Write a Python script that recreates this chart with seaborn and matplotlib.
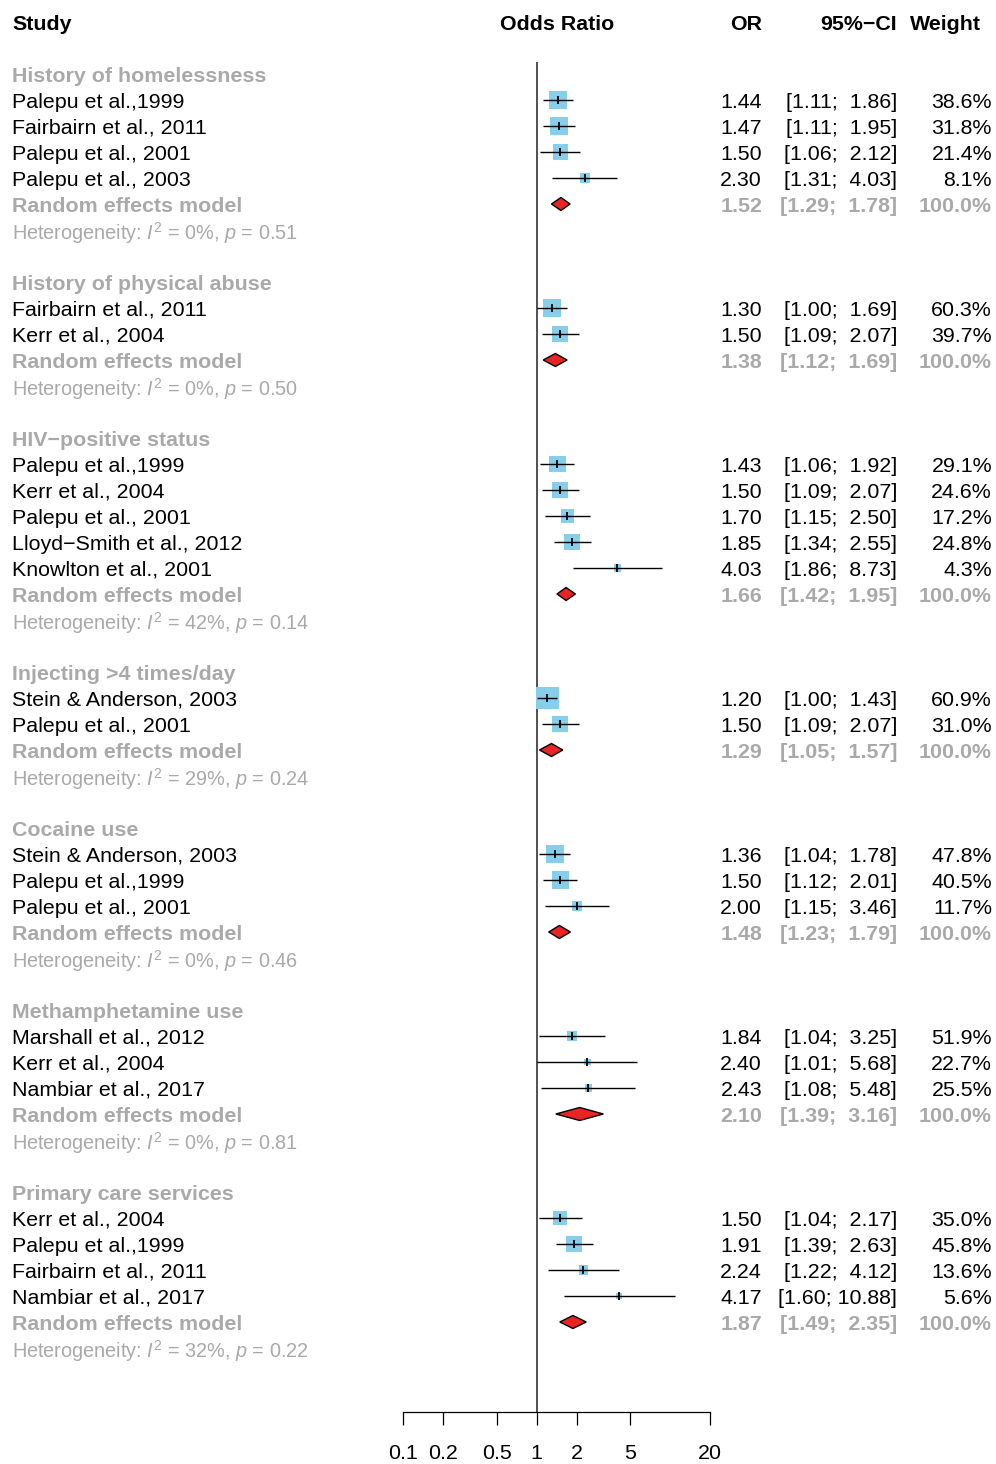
import numpy as np
import pandas as pd
import matplotlib
matplotlib.use("Agg")
import matplotlib.pyplot as plt
from matplotlib.patches import Polygon
from matplotlib.ticker import FixedLocator, FixedFormatter, NullLocator
from matplotlib.transforms import blended_transform_factory
import seaborn as sns

# ---- data -------------------------------------------------------------
group_names = [
    "History of homelessness",
    "History of physical abuse",
    "HIV\u2212positive status",
    "Injecting >4 times/day",
    "Cocaine use",
    "Methamphetamine use",
    "Primary care services",
]

study_group = [0, 0, 0, 0,
               1, 1,
               2, 2, 2, 2, 2,
               3, 3,
               4, 4, 4,
               5, 5, 5,
               6, 6, 6, 6]
study_names = [
    "Palepu et al.,1999", "Fairbairn et al., 2011", "Palepu et al., 2001", "Palepu et al., 2003",
    "Fairbairn et al., 2011", "Kerr et al., 2004",
    "Palepu et al.,1999", "Kerr et al., 2004", "Palepu et al., 2001",
    "Lloyd\u2212Smith et al., 2012", "Knowlton et al., 2001",
    "Stein & Anderson, 2003", "Palepu et al., 2001",
    "Stein & Anderson, 2003", "Palepu et al.,1999", "Palepu et al., 2001",
    "Marshall et al., 2012", "Kerr et al., 2004", "Nambiar et al., 2017",
    "Kerr et al., 2004", "Palepu et al.,1999", "Fairbairn et al., 2011", "Nambiar et al., 2017",
]
study_or = [1.44, 1.47, 1.50, 2.30,
            1.30, 1.50,
            1.43, 1.50, 1.70, 1.85, 4.03,
            1.20, 1.50,
            1.36, 1.50, 2.00,
            1.84, 2.40, 2.43,
            1.50, 1.91, 2.24, 4.17]
study_lo = [1.11, 1.11, 1.06, 1.31,
            1.00, 1.09,
            1.06, 1.09, 1.15, 1.34, 1.86,
            1.00, 1.09,
            1.04, 1.12, 1.15,
            1.04, 1.01, 1.08,
            1.04, 1.39, 1.22, 1.60]
study_hi = [1.86, 1.95, 2.12, 4.03,
            1.69, 2.07,
            1.92, 2.07, 2.50, 2.55, 8.73,
            1.43, 2.07,
            1.78, 2.01, 3.46,
            3.25, 5.68, 5.48,
            2.17, 2.63, 4.12, 10.88]
study_weight = [38.6, 31.8, 21.4, 8.1,
                60.3, 39.7,
                29.1, 24.6, 17.2, 24.8, 4.3,
                60.9, 31.0,
                47.8, 40.5, 11.7,
                51.9, 22.7, 25.5,
                35.0, 45.8, 13.6, 5.6]

pooled_or = [1.52, 1.38, 1.66, 1.29, 1.48, 2.10, 1.87]
pooled_lo = [1.29, 1.12, 1.42, 1.05, 1.23, 1.39, 1.49]
pooled_hi = [1.78, 1.69, 1.95, 1.57, 1.79, 3.16, 2.35]
het_i2 = [0, 0, 42, 29, 0, 0, 32]
het_p = ["0.51", "0.50", "0.14", "0.24", "0.46", "0.81", "0.22"]

tick_values = [0.1, 0.2, 0.5, 1, 2, 5, 20]
tick_labels = ["0.1", "0.2", "0.5", "1", "2", "5", "20"]

# ---- style ------------------------------------------------------------
sns.set_theme(style="white")
plt.rcParams["font.family"] = ["Liberation Sans", "DejaVu Sans"]
plt.rcParams["mathtext.fontset"] = "custom"
plt.rcParams["mathtext.rm"] = "Liberation Sans"
plt.rcParams["mathtext.it"] = "Liberation Sans:italic"
plt.rcParams["mathtext.bf"] = "Liberation Sans:bold"

FS = 15.4
FS_HET = 14.3
GREY = "#A9A9A9"
SQUARE = "#87CEEB"
DIAMOND = "#E82424"

W, H = 996, 1464
fig = plt.figure(figsize=(W / 100, H / 100), dpi=100)
ax = fig.add_axes([0, 0, 1, 1])
ax.set_xscale("log")

# log axis: value 1 sits at x0 px, one decade spans dec px
x0, dec = 536.7, 133.4
ax.set_xlim(10 ** ((0 - x0) / dec), 10 ** ((W - x0) / dec))
# rows are 26 px apart, header row centred 22 px from the top
row0, rowh = 22.0, 26.0
ax.set_ylim((H - row0) / rowh, -row0 / rowh)

txt = blended_transform_factory(fig.transFigure, ax.transData)


def put(xpx, row, s, ha="left", color="black", weight="normal", size=FS):
    ax.text(xpx / W, row, s, transform=txt, ha=ha, va="center_baseline",
            fontsize=size, color=color, fontweight=weight)


# ---- row layout -------------------------------------------------------
study_row = []
title_row, pooled_row, het_row = [], [], []
r = 2
for g in range(len(group_names)):
    title_row.append(r)
    r += 1
    for i, sg in enumerate(study_group):
        if sg == g:
            study_row.append((i, r))
            r += 1
    pooled_row.append(r)
    het_row.append(r + 1)
    r += 3
study_row = [row for _, row in sorted(study_row)]
last_row = het_row[-1]
axis_row = last_row + 2.46

df = pd.DataFrame({
    "name": study_names,
    "or": study_or,
    "lo": study_lo,
    "hi": study_hi,
    "weight": study_weight,
    "row": study_row,
})
# square side follows inverse-variance weight (with between-study variance)
se = (np.log(df["hi"]) - np.log(df["lo"])) / (2 * 1.96)
side_px = 3.03 / np.sqrt(se ** 2 + 0.0095)
df["area"] = (side_px * 0.72) ** 2

# ---- header -----------------------------------------------------------
put(12, 0, "Study", weight="bold")
put(557, 0, "Odds Ratio", ha="center", weight="bold")
put(762, 0, "OR", ha="right", weight="bold")
put(897, 0, "95%\u2212CI", ha="right", weight="bold")
put(981, 0, "Weight", ha="right", weight="bold")

# ---- reference line at OR = 1 ----------------------------------------
ax.vlines(1, 1.55, axis_row, color="#333333", lw=1.2, zorder=1)

# ---- study squares, CIs and estimates ---------------------------------
amin, amax = df["area"].min(), df["area"].max()
sns.scatterplot(data=df, x="or", y="row", size="area", sizes=(amin, amax),
                size_norm=(amin, amax), marker="s", color=SQUARE,
                linewidth=0, legend=False, ax=ax, zorder=2)
ax.hlines(df["row"], df["lo"], df["hi"], color="black", lw=1.0, zorder=3)
ax.scatter(df["or"], df["row"], marker="|", s=28, linewidths=1.3,
           color="black", zorder=4)

for i, row in df.iterrows():
    put(12, row["row"], row["name"])
    put(762, row["row"], f"{row['or']:.2f}", ha="right")
    put(897, row["row"], f"[{row['lo']:.2f}; {row['hi']:5.2f}]", ha="right")
    put(992, row["row"], f"{row['weight']:.1f}%", ha="right")

# ---- subgroup titles, pooled diamonds, heterogeneity -------------------
half = 0.25
for g, name in enumerate(group_names):
    put(12, title_row[g], name, color=GREY, weight="bold")
    pr = pooled_row[g]
    put(12, pr, "Random effects model", color=GREY, weight="bold")
    put(762, pr, f"{pooled_or[g]:.2f}", ha="right", color=GREY, weight="bold")
    put(897, pr, f"[{pooled_lo[g]:.2f}; {pooled_hi[g]:5.2f}]", ha="right",
        color=GREY, weight="bold")
    put(992, pr, "100.0%", ha="right", color=GREY, weight="bold")
    ax.add_patch(Polygon([(pooled_lo[g], pr), (pooled_or[g], pr - half),
                          (pooled_hi[g], pr), (pooled_or[g], pr + half)],
                         closed=True, facecolor=DIAMOND, edgecolor="black",
                         lw=1.0, zorder=3))
    put(12, het_row[g],
        f"Heterogeneity: $I^2$ = {het_i2[g]}%, $p$ = {het_p[g]}",
        color=GREY, size=FS_HET)

# ---- x axis -----------------------------------------------------------
for side in ["top", "left", "right"]:
    ax.spines[side].set_visible(False)
ax.spines["bottom"].set_position(("data", axis_row))
ax.spines["bottom"].set_bounds(tick_values[0], tick_values[-1])
ax.spines["bottom"].set_color("black")
ax.spines["bottom"].set_linewidth(0.9)
ax.xaxis.set_major_locator(FixedLocator(tick_values))
ax.xaxis.set_major_formatter(FixedFormatter(tick_labels))
ax.xaxis.set_minor_locator(NullLocator())
ax.tick_params(axis="x", which="major", direction="out", length=9.4,
               width=0.9, color="black", labelsize=FS, labelcolor="black",
               pad=13.5, bottom=True)
ax.set_yticks([])
ax.set_xlabel("")
ax.set_ylabel("")
ax.patch.set_alpha(0)

fig.savefig("out.png", dpi=100)
